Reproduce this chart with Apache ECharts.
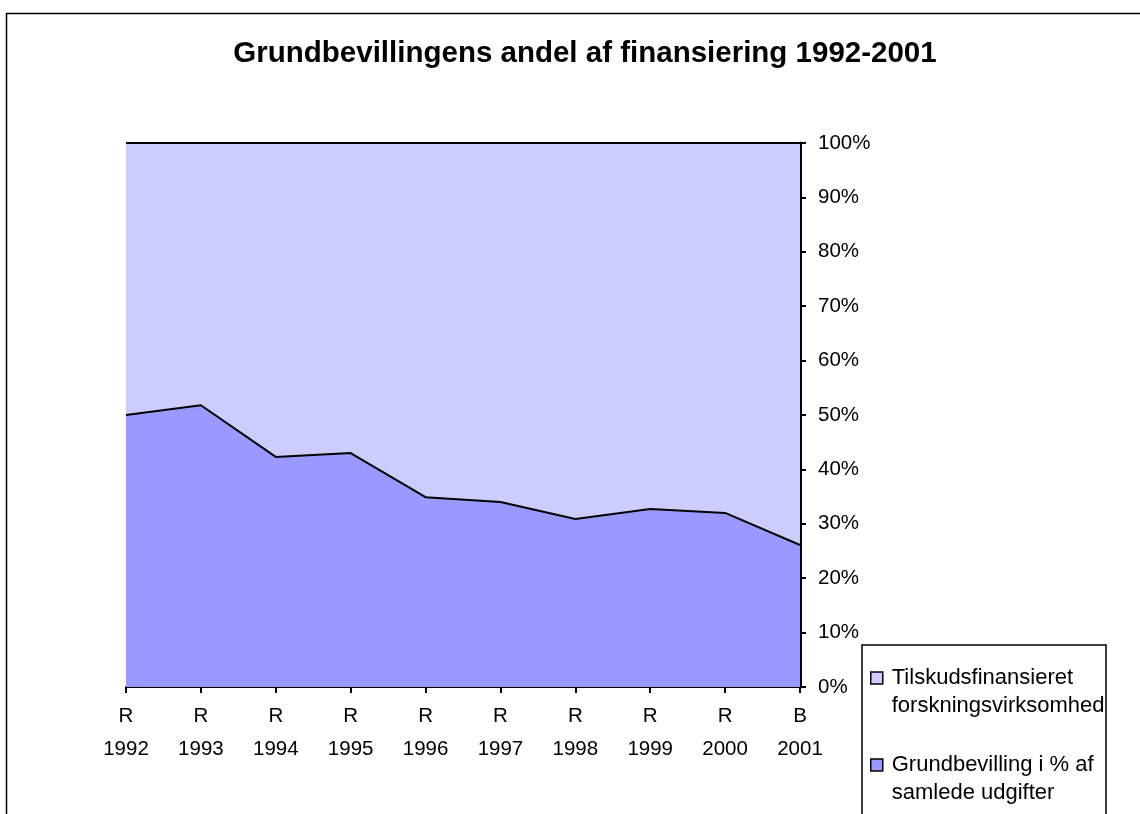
<!DOCTYPE html>
<html>
<head>
<meta charset="utf-8">
<script src="https://cdn.jsdelivr.net/npm/echarts@6/dist/echarts.min.js"></script>
<style>
  html, body { margin: 0; padding: 0; background: #fff; }
  #chart { width: 1140px; height: 814px; }
</style>
</head>
<body>
<div id="chart"></div>
<script>
  // categories (R = regnskab, B = budget)
  var years = ['R\n1992', 'R\n1993', 'R\n1994', 'R\n1995', 'R\n1996', 'R\n1997', 'R\n1998', 'R\n1999', 'R\n2000', 'B\n2001']
  // share in percent
  var grundbevilling = [50.0, 51.8, 42.3, 43.0, 34.9, 34.0, 30.9, 32.7, 32.0, 26.1]
  var tilskud = [50.0, 48.2, 57.7, 57.0, 65.1, 66.0, 69.1, 67.3, 68.0, 73.9]
  var yTicks = [0, 10, 20, 30, 40, 50, 60, 70, 80, 90, 100]

  var nameTilskud = 'Tilskudsfinansieret forskningsvirksomhed'
  var nameGrund = 'Grundbevilling i % af samlede udgifter'
  // wrapped legend text, blank first line keeps the icon next to the first line
  var legendText = {}
  legendText[nameTilskud] = '\nTilskudsfinansieret\nforskningsvirksomhed'
  legendText[nameGrund] = '\nGrundbevilling i % af\nsamlede udgifter'

  var font = 'Liberation Sans, Arial, sans-serif'

  var chart = echarts.init(document.getElementById('chart'))
  var option = {
    animation: false,
    backgroundColor: '#fff',
    textStyle: { fontFamily: font },
    title: {
      text: 'Grundbevillingens andel af finansiering 1992-2001',
      left: 580,
      textAlign: 'center',
      top: 34,
      textStyle: { fontFamily: font, fontSize: 29.5, fontWeight: 'bold', color: '#000' }
    },
    graphic: [
      {
        type: 'rect',
        z: 0,
        shape: { x: 6.5, y: 13.5, width: 1200, height: 900 },
        style: { fill: 'none', stroke: '#000', lineWidth: 1.5 }
      },
      {
        type: 'rect',
        z: 1,
        shape: { x: 862, y: 645, width: 244, height: 300 },
        style: { fill: '#fff', stroke: '#000', lineWidth: 1.5 }
      }
    ],
    legend: {
      z: 10,
      orient: 'vertical',
      left: 870,
      top: 636,
      padding: 0,
      itemGap: 3,
      itemWidth: 12,
      itemHeight: 12,
      icon: 'rect',
      data: [nameTilskud, nameGrund],
      itemStyle: { borderColor: '#000', borderWidth: 1.5 },
      formatter: function (name) { return legendText[name] },
      textStyle: {
        fontFamily: font,
        fontSize: 22,
        lineHeight: 28,
        color: '#000',
        padding: [0, 0, 0, 4],
        width: 214,
        overflow: 'truncate',
        ellipsis: ''
      }
    },
    grid: { left: 126, right: 340, top: 143, bottom: 127 },
    xAxis: {
      type: 'category',
      boundaryGap: false,
      data: years,
      axisLine: { lineStyle: { color: '#000', width: 2 } },
      axisTick: { show: true, length: 6, lineStyle: { color: '#000', width: 2 } },
      axisLabel: { color: '#000', fontFamily: font, fontSize: 20.5, lineHeight: 33, margin: 13 },
      splitLine: { show: false }
    },
    yAxis: {
      type: 'value',
      position: 'right',
      min: yTicks[0],
      max: yTicks[yTicks.length - 1],
      interval: 10,
      axisLine: { show: true, lineStyle: { color: '#000', width: 3 } },
      axisTick: { show: true, length: 6, lineStyle: { color: '#000', width: 2 } },
      axisLabel: { color: '#000', fontFamily: font, fontSize: 20.5, margin: 18, formatter: '{value}%' },
      splitLine: { show: false }
    },
    series: [
      {
        name: nameGrund,
        type: 'line',
        stack: 'total',
        z: 4,
        showSymbol: false,
        data: grundbevilling,
        lineStyle: { color: '#000', width: 2 },
        itemStyle: { color: '#9999FF' },
        areaStyle: { color: '#9999FF', opacity: 1 }
      },
      {
        name: nameTilskud,
        type: 'line',
        stack: 'total',
        z: 2,
        showSymbol: false,
        data: tilskud,
        lineStyle: { color: '#000', width: 2 },
        itemStyle: { color: '#CCCCFF' },
        areaStyle: { color: '#CCCCFF', opacity: 1 }
      }
    ]
  }
  chart.setOption(option)
</script>
</body>
</html>
